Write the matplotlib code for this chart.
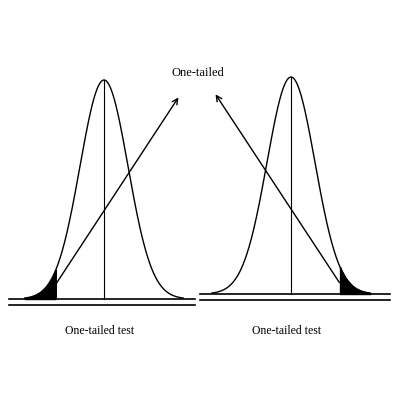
import numpy as np
import matplotlib
matplotlib.use("Agg")
import matplotlib.pyplot as plt

means = [104, 291]
sigmas = [24, 24]
baselines = [299, 294]
peaks = [80, 77]
cutoffs = [56, 340]
tails = ["left", "right"]
labels = ["One-tailed test", "One-tailed test"]
title = "One-tailed"

fig = plt.figure(figsize=(4, 4), dpi=100)
ax = fig.add_axes([0, 0, 1, 1])
ax.set_xlim(0, 400); ax.set_ylim(400, 0); ax.axis("off")

base_x = [(9, 195), (200, 390)]
for m, s, b, p, c, t, lab, bx in zip(means, sigmas, baselines, peaks, cutoffs, tails, labels, base_x):
    x = np.linspace(m - 3.3 * s, m + 3.3 * s, 400)
    y = b - (b - p) * np.exp(-0.5 * ((x - m) / s) ** 2)
    ax.plot(x, y, color="black", lw=1)
    ax.plot([m, m], [p, b], color="black", lw=0.8)
    mask = x <= c if t == "left" else x >= c
    ax.fill_between(x[mask], y[mask], b, color="black")
    ax.plot(bx, [b, b], color="black", lw=1.2)
    ax.plot(bx, [b + 6, b + 6], color="black", lw=1.2)
    ax.text(m - 4, 331, lab, ha="center", va="center", fontsize=8.5, family="Liberation Serif")

ax.annotate("", xy=(180, 95), xytext=(52, 290),
            arrowprops=dict(arrowstyle="->", color="black", lw=1))
ax.annotate("", xy=(214, 92), xytext=(341, 285),
            arrowprops=dict(arrowstyle="->", color="black", lw=1))
ax.text(198, 73, title, ha="center", va="center", fontsize=9, family="Liberation Serif")

fig.savefig("out.png")
